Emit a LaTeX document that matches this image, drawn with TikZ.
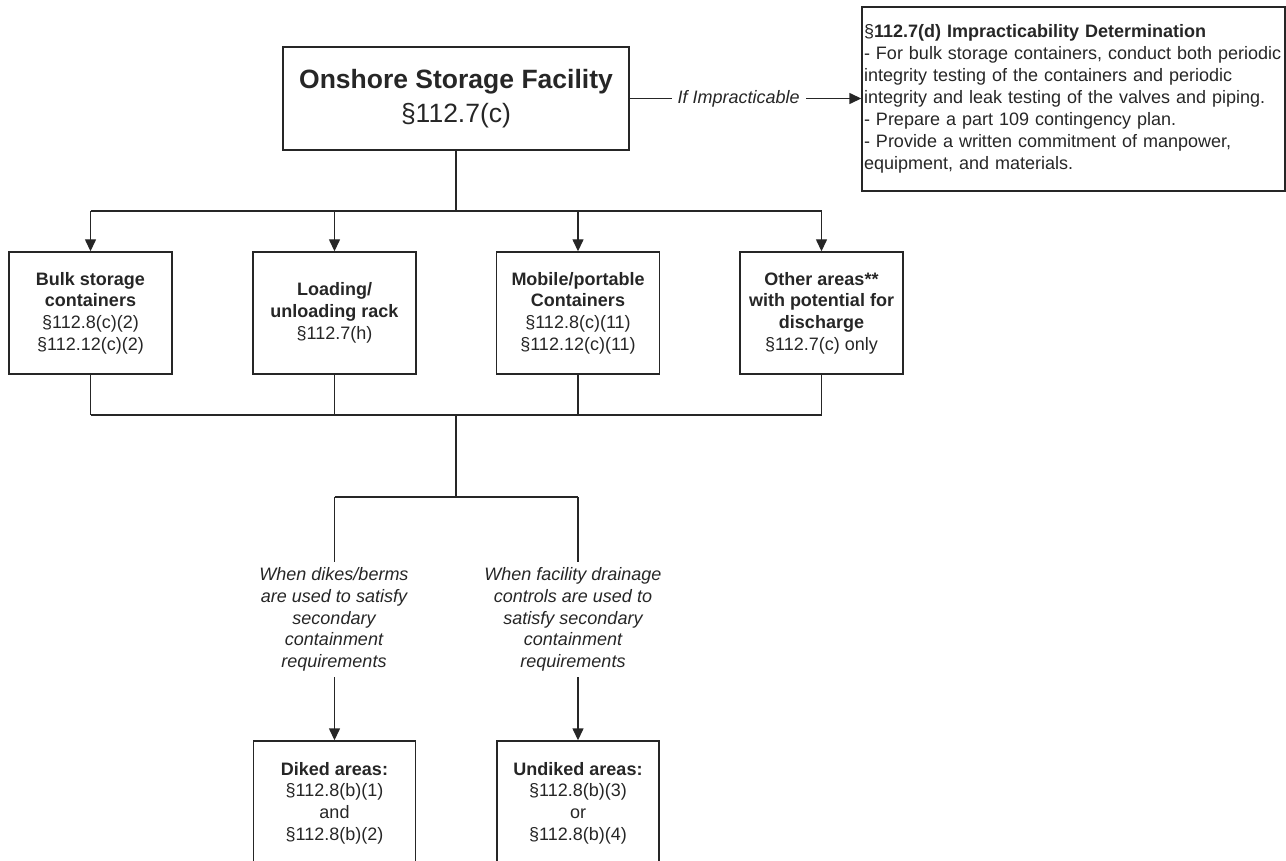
\documentclass[tikz,border=0pt]{standalone}
\usepackage{fontspec}
\setmainfont{Liberation Sans}
\usetikzlibrary{arrows.meta}
\begin{document}
\begin{tikzpicture}[x=1pt,y=-1pt,
  ln/.style={draw=black!85, line width=1.4pt},
  arr/.style={ln, -{Triangle[length=12pt,width=11pt]}},
  basebox/.style={draw=black!85, line width=1.4pt, rectangle, inner sep=0pt,
    text=black!85, align=center, font=\fontsize{18}{21.7}\selectfont},
  midbox/.style={basebox, minimum width=163pt, minimum height=122pt},
  lowbox/.style={basebox, minimum width=162pt, minimum height=124pt},
  condtext/.style={text=black!85, align=center, inner sep=6pt,
    font=\fontsize{18}{21.6}\selectfont\itshape}
]
\useasboundingbox (0,0) rectangle (1286,861);
\clip (0,0) rectangle (1286,861);

% facility box and the impracticability box
\node[basebox, minimum width=346pt, minimum height=103pt,
      font=\fontsize{26.5}{34}\selectfont] (top) at (456,98.5)
  {\textbf{Onshore Storage Facility}\\§112.7(c)};
\node[basebox, minimum width=423pt, minimum height=184pt, text width=419pt,
      inner xsep=2pt, align=left, font=\fontsize{18}{22}\selectfont]
  (imp) at (1073.5,99)
  {§\textbf{112.7(d) Impracticability Determination}\\
   \mbox{- For bulk storage containers, conduct both periodic}\\
   \mbox{integrity testing of the containers and periodic}\\
   \mbox{integrity and leak testing of the valves and piping.}\\
   - Prepare a part 109 contingency plan.\\
   - Provide a written commitment of manpower,\\
   equipment, and materials.};

\draw[arr] (top.east) -- (top.east -| imp.west)
  node[pos=0.47, fill=white, inner xsep=6pt, inner ysep=2pt, text=black!85,
       font=\fontsize{18}{21.6}\selectfont\itshape] (ifimp) {If Impracticable};

% four kinds of areas
\node[midbox] (b1) at (90.5,313)
  {\textbf{Bulk storage}\\\textbf{containers}\\§112.8(c)(2)\\§112.12(c)(2)};
\node[midbox] (b2) at (334.5,313)
  {\textbf{Loading/}\\\textbf{unloading rack}\\§112.7(h)};
\node[midbox] (b3) at (578,313)
  {\textbf{Mobile/portable}\\\textbf{Containers}\\§112.8(c)(11)\\§112.12(c)(11)};
\node[midbox] (b4) at (821.5,313)
  {\textbf{Other areas**}\\\textbf{with potential for}\\\textbf{discharge}\\§112.7(c) only};

% secondary containment outcomes
\node[lowbox] (d1) at (334.5,803)
  {\textbf{Diked areas:}\\§112.8(b)(1)\\and\\§112.8(b)(2)};
\node[lowbox] (d2) at (578,803)
  {\textbf{Undiked areas:}\\§112.8(b)(3)\\or\\§112.8(b)(4)};

\node[condtext] (c1) at (334,619.5)
  {When dikes/berms\\are used to satisfy\\secondary\\containment\\requirements};
\node[condtext] (c2) at (573,619.5)
  {When facility drainage\\controls are used to\\satisfy secondary\\containment\\requirements};

% distribution bus from the facility box
\coordinate (bus1) at (456,211);
\draw[ln] (top.south) -- (top.south |- bus1);
\draw[ln] (b1.north |- bus1) -- (b4.north |- bus1);
\foreach \b in {b1,b2,b3,b4}
  \draw[arr] (\b.north |- bus1) -- (\b.north);

% collecting bus below the four boxes
\coordinate (bus2) at (456,415);
\coordinate (bus3) at (456,497);
\foreach \b in {b1,b2,b3,b4}
  \draw[ln] (\b.south) -- (\b.south |- bus2);
\draw[ln] (b1.south |- bus2) -- (b4.south |- bus2);
\draw[ln] (bus2) -- (bus3);
\draw[ln] (d1.north |- bus3) -- (d2.north |- bus3);

% branches through the conditions to the outcomes
\draw[ln] (d1.north |- bus3) -- (d1.north |- c1.north);
\draw[ln] (d2.north |- bus3) -- (d2.north |- c2.north);
\draw[arr] (d1.north |- c1.south) -- (d1.north);
\draw[arr] (d2.north |- c2.south) -- (d2.north);
\end{tikzpicture}
\end{document}
